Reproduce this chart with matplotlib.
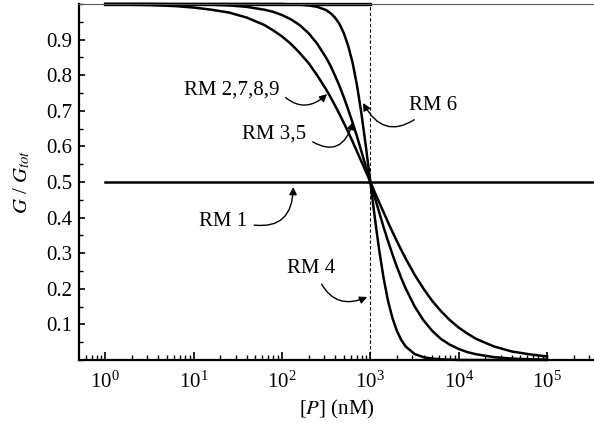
import matplotlib
matplotlib.use("Agg")
import matplotlib.pyplot as plt
from matplotlib.ticker import MultipleLocator, LogLocator, NullFormatter

plt.rcParams['font.family'] = ['Liberation Serif', 'DejaVu Serif']
plt.rcParams['mathtext.fontset'] = 'stix'

# [P] in nM
conc = [1, 3.16, 6.31, 10, 15.8, 25.1, 39.8, 63.1, 79.4, 100, 126, 158, 200,
        251, 316, 355, 398, 447, 501, 562, 631, 708, 794, 891, 1000, 1122,
        1259, 1413, 1585, 1778, 1995, 2239, 2512, 3162, 3981, 5012, 6310,
        7943, 10000, 12589, 15849, 25119, 39811, 63096, 100000]

# G / Gtot
wide = [0.999, 0.997, 0.994, 0.990, 0.984, 0.976, 0.962, 0.941, 0.926, 0.909,
        0.888, 0.863, 0.834, 0.799, 0.760, 0.738, 0.715, 0.691, 0.666, 0.640,
        0.613, 0.585, 0.557, 0.529, 0.500, 0.471, 0.443, 0.415, 0.387, 0.360,
        0.334, 0.309, 0.285, 0.240, 0.201, 0.166, 0.137, 0.112, 0.091, 0.074,
        0.059, 0.038, 0.024, 0.016, 0.010]
middle = [1.000, 1.000, 0.999, 0.999, 0.998, 0.996, 0.992, 0.984, 0.978, 0.969,
          0.957, 0.941, 0.918, 0.888, 0.849, 0.826, 0.799, 0.770, 0.738, 0.703,
          0.666, 0.627, 0.585, 0.543, 0.500, 0.457, 0.415, 0.373, 0.334, 0.297,
          0.262, 0.230, 0.201, 0.151, 0.112, 0.082, 0.059, 0.043, 0.031, 0.022,
          0.016, 0.008, 0.004, 0.002, 0.001]
steep = [1.000, 1.000, 1.000, 1.000, 1.000, 1.000, 1.000, 1.000, 1.000, 1.000,
         0.999, 0.998, 0.996, 0.992, 0.983, 0.974, 0.962, 0.944, 0.918, 0.882,
         0.834, 0.770, 0.691, 0.599, 0.500, 0.401, 0.309, 0.230, 0.166, 0.118,
         0.082, 0.056, 0.038, 0.017, 0.008, 0.004, 0.002, 0.001, 0.000, 0.000,
         0.000, 0.000, 0.000, 0.000, 0.000]

flat_x = [1, 3.4e5]
flat_y = [0.5, 0.5]
step_x = [1, 1000]
step_y = [1.0, 1.0]
p_half = 1000

fig = plt.figure(figsize=(5.94, 4.25), dpi=100)
ax = fig.add_axes([79 / 594, 1 - 360 / 425, 1 - 79 / 594, 356 / 425])

lw = 1.8
for ys in (wide, middle, steep):
    ax.plot(conc, ys, color='black', lw=lw, clip_on=False,
            solid_joinstyle='round')
ax.plot(flat_x, flat_y, color='black', lw=lw)
ax.plot(step_x, step_y, color='black', lw=lw + 0.6, clip_on=False)
ax.plot([p_half, p_half], [0, 1], color='black', lw=0.8, ls=(0, (3, 2)))

ax.set_xscale('log')
ax.set_xlim(0.504, 3.4e5)
ax.set_ylim(0, 1)

ax.xaxis.set_major_locator(LogLocator(base=10, numticks=10))
ax.xaxis.set_minor_locator(LogLocator(base=10, subs=range(2, 10), numticks=20))
ax.xaxis.set_minor_formatter(NullFormatter())
ax.yaxis.set_minor_locator(MultipleLocator(0.05))
ax.set_yticks([0.1, 0.2, 0.3, 0.4, 0.5, 0.6, 0.7, 0.8, 0.9])
ax.set_yticklabels(['0.1', '0.2', '0.3', '0.4', '0.5', '0.6', '0.7', '0.8', '0.9'])

ax.tick_params(which='both', direction='in', labelsize=15, color='black')
ax.tick_params(axis='x', which='major', length=6, width=1.2, pad=8)
ax.tick_params(axis='x', which='minor', length=3.5, width=1)
ax.tick_params(axis='y', which='major', length=4.5, width=1.2, pad=5)
ax.tick_params(axis='y', which='minor', length=3, width=1)

ax.spines['right'].set_visible(False)
ax.spines['top'].set_linewidth(0.8)
ax.spines['top'].set_color('0.35')
ax.spines['left'].set_linewidth(1.6)
ax.spines['bottom'].set_linewidth(1.6)

ax.set_xlabel(r'[$P$] (nM)', fontsize=15, labelpad=4)
ax.set_ylabel(r'$G$ / $G_{tot}$', fontsize=15, labelpad=10)

arrow = dict(arrowstyle='-|>', color='black', lw=1, mutation_scale=11,
             shrinkA=3, shrinkB=0)

ax.annotate('RM 2,7,8,9', xy=(324, 0.747), xytext=(27.2, 0.758),
            ha='center', va='center', fontsize=15,
            arrowprops=dict(arrow, connectionstyle='arc3,rad=0.5', relpos=(1, 0.4)))
ax.annotate('RM 3,5', xy=(638, 0.669), xytext=(81.9, 0.635),
            ha='center', va='center', fontsize=15,
            arrowprops=dict(arrow, connectionstyle='arc3,rad=0.7', relpos=(1, 0.3)))
ax.annotate('RM 6', xy=(828, 0.722), xytext=(5160, 0.716),
            ha='center', va='center', fontsize=15,
            arrowprops=dict(arrow, connectionstyle='arc3,rad=-0.6', relpos=(0.25, 0)))
ax.annotate('RM 1', xy=(134, 0.486), xytext=(21.6, 0.390),
            ha='center', va='center', fontsize=15,
            arrowprops=dict(arrow, connectionstyle='arc3,rad=0.6', relpos=(1, 0.35)))
ax.annotate('RM 4', xy=(921, 0.177), xytext=(214, 0.258),
            ha='center', va='center', fontsize=15,
            arrowprops=dict(arrow, connectionstyle='arc3,rad=0.5', relpos=(0.65, 0)))

fig.savefig('out.png', dpi=100)
